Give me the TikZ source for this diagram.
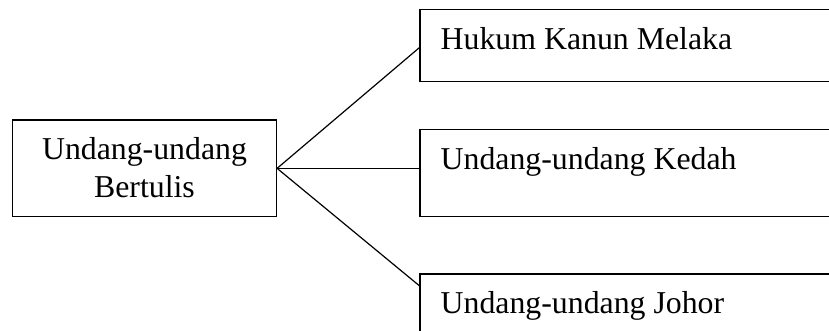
\documentclass[tikz,border=0pt]{standalone}
\usepackage{fontspec}
\setmainfont{Liberation Serif}
\usetikzlibrary{calc}
\begin{document}
\begin{tikzpicture}[x=1pt,y=-1pt,
  boxstyle/.style={draw=black,line width=1.4pt,rectangle,inner sep=0pt,anchor=north west},
  txt/.style={inner sep=0pt,font=\fontsize{31.8}{37}\selectfont},
  conn/.style={draw=black,line width=1.2pt}]
\useasboundingbox (0,0) rectangle (829,331);
\clip (0,0) rectangle (829,331);
% main box
\node[boxstyle,minimum width=264pt,minimum height=96.7pt] (main) at (11.7,119.3) {};
\node[txt,anchor=base] (m1) at (144.5,160) {Undang-undang};
\node[txt,anchor=base] (m2) at (144.5,197.3) {Bertulis};
% right boxes
\node[boxstyle,minimum width=430pt,minimum height=71.7pt] (b1) at (419.3,9) {};
\node[boxstyle,minimum width=430pt,minimum height=86.7pt] (b2) at (419.3,129) {};
\node[boxstyle,minimum width=430pt,minimum height=80pt] (b3) at (419.3,273.3) {};
\node[txt,anchor=base west] (t1) at (440.5,50) {Hukum Kanun Melaka};
\node[txt,anchor=base west] (t2) at (440.5,170) {Undang-undang Kedah};
\node[txt,anchor=base west] (t3) at (440.5,313) {Undang-undang Johor};
% connectors
\coordinate (e1) at ($(b1.north west)+(0,38.7)$);
\coordinate (e3) at ($(b3.north west)+(0,12.4)$);
\draw[conn] (main.east) -- (e1);
\draw[conn] (main.east) -- (main.east -| b2.west);
\draw[conn] (main.east) -- (e3);
\end{tikzpicture}
\end{document}
